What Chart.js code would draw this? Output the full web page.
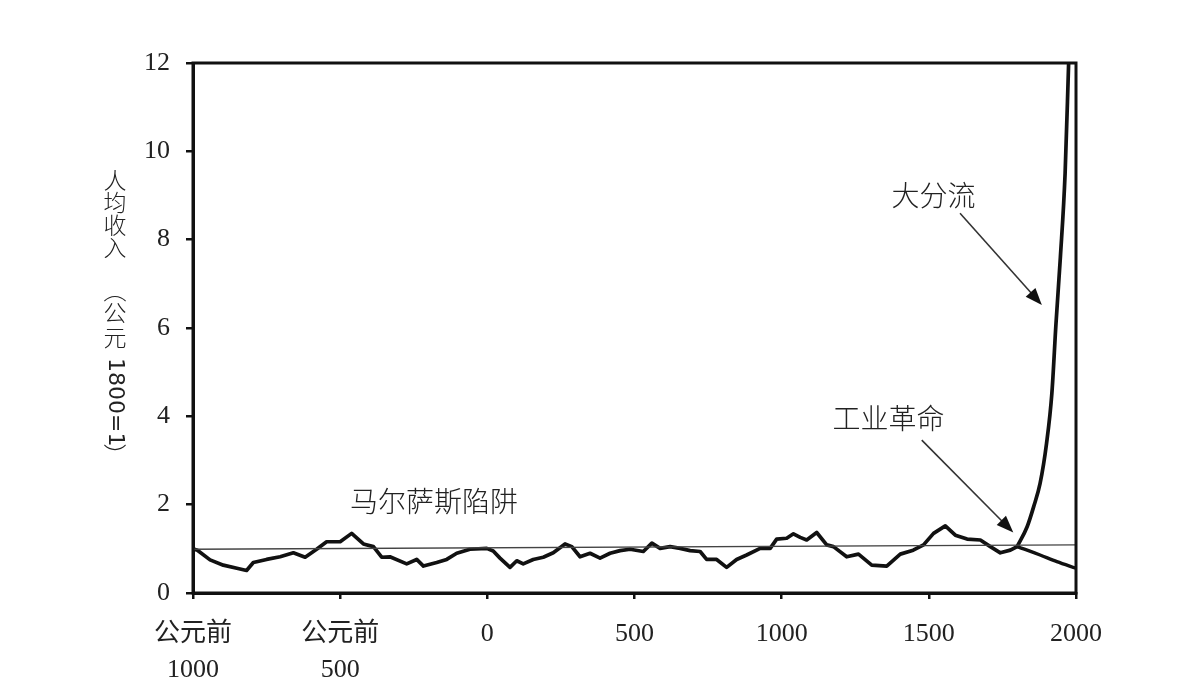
<!DOCTYPE html>
<html>
<head>
<meta charset="utf-8">
<script src="https://cdn.jsdelivr.net/npm/chart.js@4.4.1/dist/chart.umd.min.js"></script>
<style>
body { margin: 0; background: #fff; }
#wrap { width: 1196px; height: 700px; }
</style>
</head>
<body>
<div id="wrap"><canvas id="incomeChart" width="1196" height="700"></canvas></div>
<script>
// income per head, 1800 = 1
const years = [-1000, -985, -942, -897, -851, -818, -795, -750, -704, -659, -619, -580, -546, -500, -461, -421, -387,
    -359, -331, -274, -240, -217, -172, -138, -104, -59, -2, 20, 43, 77, 100, 122, 156, 190, 224, 264, 287, 315, 349,
    383, 417, 451, 485, 530, 559, 587, 621, 655, 689, 723, 745, 779, 813, 847, 881, 927, 961, 983, 1017, 1040, 1063,
    1085, 1119, 1153, 1176, 1221, 1261, 1306, 1357, 1403, 1447, 1482, 1516, 1556, 1590, 1630, 1675, 1709, 1743, 1777, 1800];
const income = [1.00, 0.97, 0.75, 0.63, 0.56, 0.51, 0.69, 0.76, 0.82, 0.91, 0.81, 0.99, 1.16, 1.16, 1.35, 1.11, 1.05,
    0.81, 0.82, 0.66, 0.76, 0.61, 0.69, 0.76, 0.90, 0.99, 1.01, 0.95, 0.79, 0.58, 0.73, 0.66, 0.76, 0.81, 0.91, 1.11, 1.05, 0.82, 0.90,
    0.79, 0.90, 0.96, 0.99, 0.94, 1.13, 1.01, 1.05, 1.01, 0.96, 0.94, 0.76, 0.76, 0.58, 0.76, 0.86, 1.01, 1.01, 1.22, 1.24, 1.34, 1.26,
    1.20, 1.37, 1.09, 1.05, 0.82, 0.88, 0.63, 0.61, 0.88, 0.97, 1.09, 1.35, 1.52, 1.31, 1.22, 1.20, 1.05, 0.91, 0.97, 1.05];

const riseYears = [1800, 1834, 1856, 1878, 1900, 1918, 1932, 1947, 1963, 1975];
const riseIncome = [1.05, 1.50, 1.95, 2.48, 3.39, 4.52, 6.10, 7.61, 9.50, 12.0];

const fallYears = [1800, 1834, 1878, 1935, 2000];
const fallIncome = [1.05, 0.97, 0.86, 0.71, 0.56];

const trendYears = [-1000, 2000];
const trendIncome = [0.99, 1.09];

const xTicks = [-1000, -500, 0, 500, 1000, 1500, 2000];
const xTickLabels = [['公元前', '1000'], ['公元前', '500'], '0', '500', '1000', '1500', '2000'];
const yTicks = [0, 2, 4, 6, 8, 10, 12];

function toPoints(xs, ys) {
    return xs.map((x, i) => ({ x: x, y: ys[i] }));
}

// notes and arrows, in data units
const notes = [
    { text: '马尔萨斯陷阱', x: -181, y: 2.08 },
    { text: '工业革命', x: 1363, y: 3.95 },
    { text: '大分流', x: 1516, y: 9.01 }
];
const arrows = [
    { x1: 1606, y1: 8.60, x2: 1884, y2: 6.52 },
    { x1: 1476, y1: 3.46, x2: 1787, y2: 1.37 }
];

function drawArrow(ctx, x1, y1, x2, y2) {
    const a = Math.atan2(y2 - y1, x2 - x1);
    const c = Math.cos(a), s = Math.sin(a);
    ctx.beginPath();
    ctx.moveTo(x1, y1);
    ctx.lineTo(x2 - 12 * c, y2 - 12 * s);
    ctx.stroke();
    ctx.beginPath();
    ctx.moveTo(x2, y2);
    ctx.lineTo(x2 - 17 * c + 6.5 * s, y2 - 17 * s - 6.5 * c);
    ctx.lineTo(x2 - 17 * c - 6.5 * s, y2 - 17 * s + 6.5 * c);
    ctx.closePath();
    ctx.fill();
}

const extras = {
    id: 'extras',
    afterDraw(chart) {
        const ctx = chart.ctx;
        const xs = chart.scales.x, ys = chart.scales.y;
        const area = chart.chartArea;
        ctx.save();

        // frame
        ctx.strokeStyle = '#111';
        ctx.lineWidth = 3;
        ctx.strokeRect(area.left, area.top, area.right - area.left, area.bottom - area.top);

        // notes
        ctx.fillStyle = '#222';
        ctx.font = '300 28px "Noto Sans CJK SC"';
        ctx.textAlign = 'center';
        ctx.textBaseline = 'middle';
        notes.forEach(n => ctx.fillText(n.text, xs.getPixelForValue(n.x), ys.getPixelForValue(n.y)));

        ctx.strokeStyle = '#333';
        ctx.fillStyle = '#111';
        ctx.lineWidth = 1.6;
        arrows.forEach(a => drawArrow(ctx,
            xs.getPixelForValue(a.x1), ys.getPixelForValue(a.y1),
            xs.getPixelForValue(a.x2), ys.getPixelForValue(a.y2)));

        // vertical y title: chinese upright, numbers turned
        const tx = area.left - 78;
        const ty = area.top;
        ctx.fillStyle = '#222';
        ctx.font = '300 23px "Noto Sans CJK SC"';
        ['人', '均', '收', '入'].forEach((ch, i) => ctx.fillText(ch, tx, ty + 117 + i * 22.4));
        ctx.fillText('︵', tx, ty + 227);
        ctx.fillText('公', tx, ty + 249);
        ctx.fillText('元', tx, ty + 274);
        ctx.fillText('︶', tx, ty + 392);

        ctx.save();
        ctx.translate(tx, ty + 295);
        ctx.rotate(Math.PI / 2);
        ctx.textAlign = 'left';
        ctx.font = '22px "DejaVu Sans"';
        ctx.fillText('1800=1', 0, 0);
        ctx.restore();

        ctx.restore();
    }
};

const ctx = document.getElementById('incomeChart').getContext('2d');
const incomeChart = new Chart(ctx, {
    type: 'line',
    data: {
        datasets: [{
            label: 'trend',
            data: toPoints(trendYears, trendIncome),
            borderColor: '#444',
            borderWidth: 1.4,
            pointRadius: 0
        }, {
            label: 'income',
            data: toPoints(years, income),
            borderColor: '#111',
            borderWidth: 3.7,
            pointRadius: 0,
            borderJoinStyle: 'round'
        }, {
            label: 'rise',
            data: toPoints(riseYears, riseIncome),
            borderColor: '#111',
            borderWidth: 3.7,
            pointRadius: 0,
            cubicInterpolationMode: 'monotone'
        }, {
            label: 'fall',
            data: toPoints(fallYears, fallIncome),
            borderColor: '#111',
            borderWidth: 3.4,
            pointRadius: 0,
            cubicInterpolationMode: 'monotone'
        }]
    },
    options: {
        responsive: false,
        animation: false,
        layout: {
            padding: { top: 63, right: 120, left: 0, bottom: 0 }
        },
        plugins: {
            legend: { display: false },
            tooltip: { enabled: false }
        },
        scales: {
            x: {
                type: 'linear',
                min: -1000,
                max: 2000,
                afterBuildTicks: scale => { scale.ticks = xTicks.map(v => ({ value: v })); },
                afterFit: scale => { scale.height = 107; },
                ticks: {
                    callback: (value) => xTickLabels[xTicks.indexOf(value)],
                    font: { family: '"Liberation Serif", "Noto Sans CJK SC"', size: 26, lineHeight: 1.38 },
                    color: '#222',
                    padding: 17,
                    maxRotation: 0,
                    autoSkip: false
                },
                grid: {
                    drawOnChartArea: false,
                    color: '#111',
                    lineWidth: 2.5,
                    tickLength: 6
                },
                border: { color: '#111', width: 3 }
            },
            y: {
                min: 0,
                max: 12,
                afterBuildTicks: scale => { scale.ticks = yTicks.map(v => ({ value: v })); },
                afterFit: scale => { scale.width = 193; },
                ticks: {
                    font: { family: '"Liberation Serif"', size: 26 },
                    color: '#222',
                    padding: 16
                },
                grid: {
                    drawOnChartArea: false,
                    color: '#111',
                    lineWidth: 2.5,
                    tickLength: 7
                },
                border: { color: '#111', width: 3 }
            }
        }
    },
    plugins: [extras]
});
</script>
</body>
</html>
